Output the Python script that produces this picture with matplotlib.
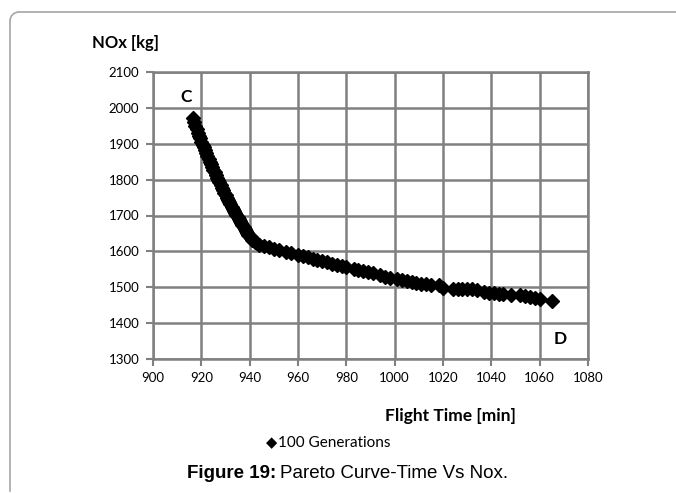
import matplotlib
matplotlib.use("Agg")
import matplotlib.pyplot as plt
from matplotlib.patches import Arc
from matplotlib.lines import Line2D

flight_time = [916.5, 917, 917.5, 918, 918.5, 919, 919.5, 920, 920.5, 921, 921.5, 922, 922.5,
               923, 923.5, 924, 924.5, 925, 925.5, 926, 926.5, 927, 927.5, 928, 928.5, 929,
               929.5, 930, 930.5, 931, 931.5, 932, 932.5, 933, 933.5, 934, 934.5, 935, 935.5,
               936, 936.5, 937, 937.5, 938, 938.5, 939, 939.5, 940, 940.5, 941, 942, 943, 944,
               946, 948, 950, 952, 955, 957, 960, 962, 964, 966, 968, 970, 972, 974, 976, 978,
               980, 983, 985, 987, 989, 991, 994, 996, 998, 1001, 1003, 1005, 1007, 1009, 1011,
               1013, 1015, 1018.5, 1020, 1024, 1026, 1028, 1030, 1032, 1034, 1037, 1039, 1041,
               1043, 1045, 1048, 1052, 1054, 1056, 1058, 1060, 1065]
nox = [1972, 1962, 1950, 1940, 1930, 1922, 1915, 1905, 1897, 1890, 1882, 1875, 1866,
       1858, 1850, 1843, 1836, 1828, 1820, 1812, 1805, 1798, 1792, 1785, 1778, 1770,
       1764, 1757, 1750, 1744, 1738, 1731, 1725, 1719, 1713, 1707, 1701, 1696, 1690,
       1685, 1679, 1674, 1668, 1663, 1657, 1652, 1647, 1642, 1637, 1632, 1627, 1622, 1619,
       1615, 1611, 1607, 1604, 1599, 1595, 1590, 1587, 1583, 1580, 1576, 1572, 1569, 1565, 1562, 1560,
       1557, 1552, 1549, 1546, 1542, 1539, 1533, 1529, 1527, 1524, 1521, 1518, 1515, 1512, 1510,
       1508, 1507, 1506, 1498, 1495, 1494, 1495, 1495, 1494, 1491, 1487, 1485, 1483,
       1481, 1480, 1478, 1478, 1476, 1474, 1471, 1467, 1462]

x_ticks = list(range(900, 1081, 20))
y_ticks = list(range(1300, 2101, 100))

W, H = 676, 493
fig = plt.figure(figsize=(W / 100, H / 100), dpi=100)

# background frame axes in pixel coordinates
bg = fig.add_axes([0, 0, 1, 1], zorder=-1)
bg.set_xlim(0, W)
bg.set_ylim(H, 0)
bg.axis("off")
fc = "#a6a6a6"
r = 9
bg.add_line(Line2D([10 + r, W + 5], [12, 12], color=fc, lw=1.2))
bg.add_line(Line2D([10, 10], [12 + r, 491], color=fc, lw=1.2))
bg.add_patch(Arc((10 + r, 12 + r), 2 * r, 2 * r, theta1=180, theta2=270, color=fc, lw=1.2))

ax = fig.add_axes([153 / W, 1 - 359 / H, (588 - 153) / W, (359 - 72) / H])
ax.plot(flight_time, nox, linestyle="none", marker="D", markersize=7,
        color="black", label="100 Generations", clip_on=False, zorder=3)
ax.set_xlim(900, 1080)
ax.set_ylim(1300, 2100)
ax.set_xticks(x_ticks)
ax.set_yticks(y_ticks)
gc = "#808080"
ax.grid(True, color=gc, linewidth=1.8)
ax.set_axisbelow(True)
for s in ax.spines.values():
    s.set_color(gc)
    s.set_linewidth(1.8)
ax.tick_params(axis="both", direction="out", length=5, width=1.5, color=gc,
               labelsize=9.5, labelcolor="black")
for lab in ax.get_xticklabels() + ax.get_yticklabels():
    lab.set_fontfamily("Lato")
ax.tick_params(axis="x", pad=4)
ax.tick_params(axis="y", pad=5)

ax.text(913.7, 2030, "C", fontsize=12.5, fontweight="bold", family="Lato", ha="center", va="center")
ax.text(1068.5, 1356, "D", fontsize=12.5, fontweight="bold", family="Lato", ha="center", va="center")

fig.text(126 / W, 1 - 43 / H, "NOx [kg]", fontsize=12, fontweight="bold", family="Lato",
         ha="center", va="center")
fig.text(450 / W, 1 - 416 / H, "Flight Time [min]", fontsize=12.5, fontweight="bold", family="Lato",
         ha="center", va="center")

fig.text(266 / W, 1 - 443 / H, "\u25c6", fontsize=10.5, family="DejaVu Sans", ha="left", va="center")
fig.text(278 / W, 1 - 443 / H, "100 Generations", fontsize=11, family="Lato", ha="left", va="center")

t1 = fig.text(187 / W, 1 - 473 / H, "Figure 19:", fontsize=13.5, fontweight="bold",
              family="Liberation Sans", ha="left", va="center")
fig.canvas.draw()
bb = t1.get_window_extent(renderer=fig.canvas.get_renderer())
fig.text(bb.x1 / W + 4 / W, 1 - 473 / H, "Pareto Curve-Time Vs Nox.", fontsize=13.5,
         family="Liberation Sans", ha="left", va="center")

fig.savefig("out.png", dpi=100)
